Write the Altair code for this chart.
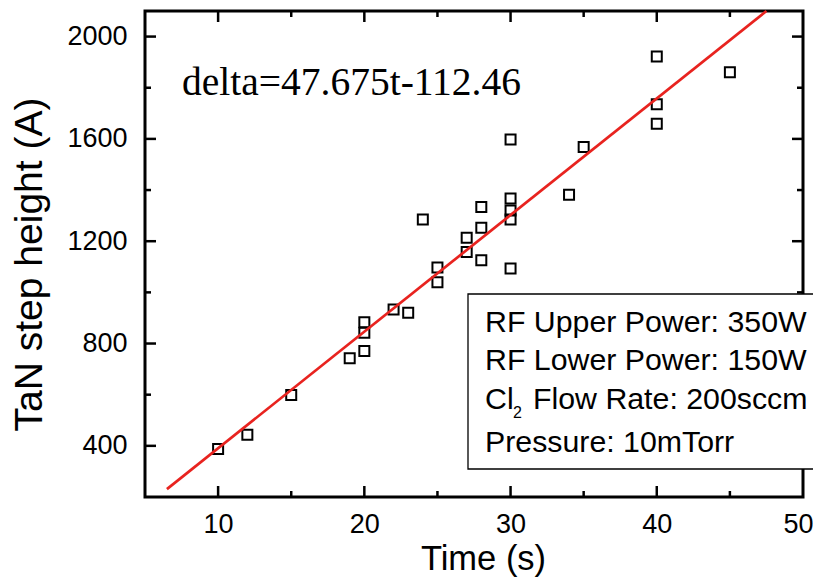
import altair as alt
import pandas as pd

# ---- data ----
time_s = [10, 12, 15, 19, 20, 20, 20, 22, 23, 24, 25, 25, 27, 27, 28, 28, 28,
          30, 30, 30, 30, 30, 34, 35, 40, 40, 40, 45]
height_a = [388, 443, 599, 742, 771, 842, 883, 933, 920, 1285, 1097, 1040, 1214, 1158,
            1334, 1253, 1126, 1598, 1367, 1320, 1285, 1093, 1382, 1568, 1922, 1735, 1659, 1861]

fit_t = [6.5, 47.5]
fit_h = [231, 2100]

x_major = [10, 20, 30, 40]
x_minor = [15, 25, 35, 45]
y_major = [400, 800, 1200, 1600, 2000]
y_minor = [600, 1000, 1400, 1800]
x_labels = [10, 20, 30, 40, 50]
y_labels = [400, 800, 1200, 1600, 2000]

equation = "delta=47.675t-112.46"
info_lines = ["RF Upper Power: 350W", "RF Lower Power: 150W", "Pressure: 10mTorr"]
cl_part, sub_part, flow_part = "Cl", "2", "Flow Rate: 200sccm"

W, H = 658, 486
X_DOM = [5, 50]
Y_DOM = [200, 2100]
SANS = "Liberation Sans"
SERIF = "Liberation Serif"

xs = alt.Scale(domain=X_DOM, nice=False, zero=False)
ys = alt.Scale(domain=Y_DOM, nice=False, zero=False)

pts = pd.DataFrame({"t": time_s, "h": height_a})
fit = pd.DataFrame({"t": fit_t, "h": fit_h})

points = alt.Chart(pts).mark_point(
    shape="square", filled=False, color="black", size=100, strokeWidth=2, opacity=1
).encode(
    x=alt.X("t:Q", scale=xs, axis=alt.Axis(
        title="Time (s)", values=x_labels, format="d", labelFlush=True, labelFlushOffset=10,
        labelPadding=14, titlePadding=5, titleX=338, titleFontSize=34.5)),
    y=alt.Y("h:Q", scale=ys, axis=alt.Axis(
        title="TaN step height (A)", values=y_labels, format="d", labelFlush=False,
        labelPadding=18, titlePadding=17, titleY=253, titleFontSize=39)),
)

line = alt.Chart(fit).mark_line(color="#e8231f", strokeWidth=2.7).encode(
    x=alt.X("t:Q", scale=xs), y=alt.Y("h:Q", scale=ys)
)


def yticks(vals, length):
    d = pd.DataFrame({"h": vals})
    left = alt.Chart(d).mark_rule(color="black", strokeWidth=2.5).encode(
        y=alt.Y("h:Q", scale=ys), x=alt.value(0), x2=alt.value(length))
    right = alt.Chart(d).mark_rule(color="black", strokeWidth=2.5).encode(
        y=alt.Y("h:Q", scale=ys), x=alt.value(W), x2=alt.value(W - length))
    return [left, right]


def xticks(vals, length):
    d = pd.DataFrame({"t": vals})
    bottom = alt.Chart(d).mark_rule(color="black", strokeWidth=2.5).encode(
        x=alt.X("t:Q", scale=xs), y=alt.value(H), y2=alt.value(H - length))
    top = alt.Chart(d).mark_rule(color="black", strokeWidth=2.5).encode(
        x=alt.X("t:Q", scale=xs), y=alt.value(0), y2=alt.value(length))
    return [bottom, top]


ticks = yticks(y_major, 11) + yticks(y_minor, 6) + xticks(x_major, 11) + xticks(x_minor, 6)

box = alt.Chart(pd.DataFrame({"k": [0]})).mark_rect(
    fill="white", stroke="black", strokeWidth=1.3
).encode(x=alt.value(323), x2=alt.value(690), y=alt.value(283), y2=alt.value(458))


def txt(s, x, y, size, font=SANS):
    return alt.Chart(pd.DataFrame({"s": [s]})).mark_text(
        align="left", baseline="alphabetic", font=font, fontSize=size, color="black"
    ).encode(x=alt.value(x), y=alt.value(y), text="s:N")


texts = [
    txt(equation, 37, 84, 39.5, SERIF),
    txt(info_lines[0], 340, 321, 30.3),
    txt(info_lines[1], 340, 359, 30.3),
    txt(cl_part, 340, 398, 30.3),
    txt(sub_part, 368, 407, 16),
    txt(flow_part, 388, 398, 30.3),
    txt(info_lines[2], 340, 441, 30.3),
]

chart = alt.layer(points, *ticks, line, box, *texts).properties(
    width=W, height=H,
    autosize=alt.AutoSizeParams(type="none"),
    padding={"left": 137, "top": 3, "right": 10, "bottom": 82},
    background="white",
).configure_view(
    stroke="black", strokeWidth=3
).configure_axis(
    ticks=False, domain=False, grid=False,
    labelFont=SANS, labelFontSize=27, labelColor="black",
    titleFont=SANS, titleColor="black", titleFontWeight="normal",
)

chart.save("out.html", embed_options={"renderer": "svg", "actions": False})
